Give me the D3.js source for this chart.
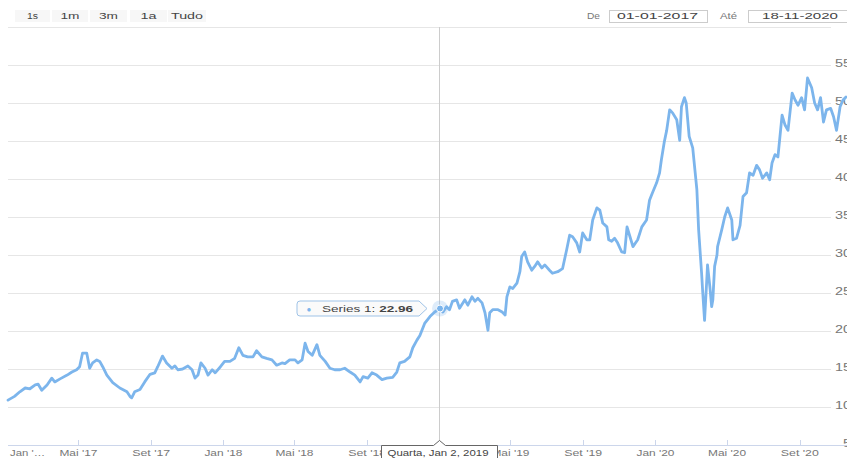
<!DOCTYPE html>
<html><head><meta charset="utf-8">
<script src="https://cdn.jsdelivr.net/npm/d3@7"></script>
<style>html,body{margin:0;padding:0;background:#fff;overflow:hidden}text{font-family:"Liberation Sans",Arial,sans-serif}</style>
</head><body><svg id="c" width="847" height="458"></svg>
<script>
const dates = ["2017-01-02","2017-01-13","2017-01-22","2017-01-31","2017-02-08","2017-02-17","2017-02-22","2017-02-28","2017-03-09","2017-03-17","2017-03-22","2017-03-31","2017-04-12","2017-04-20","2017-04-28","2017-05-03","2017-05-08","2017-05-15","2017-05-20","2017-05-25","2017-06-01","2017-06-06","2017-06-11","2017-06-18","2017-06-28","2017-07-10","2017-07-22","2017-07-27","2017-07-30","2017-08-04","2017-08-13","2017-08-21","2017-08-30","2017-09-07","2017-09-12","2017-09-20","2017-09-27","2017-10-06","2017-10-11","2017-10-16","2017-10-24","2017-11-02","2017-11-09","2017-11-14","2017-11-19","2017-11-24","2017-12-01","2017-12-06","2017-12-13","2017-12-18","2017-12-27","2018-01-03","2018-01-12","2018-01-20","2018-01-27","2018-02-03","2018-02-11","2018-02-20","2018-02-26","2018-03-07","2018-03-15","2018-03-24","2018-04-01","2018-04-10","2018-04-15","2018-04-23","2018-05-02","2018-05-07","2018-05-14","2018-05-19","2018-05-24","2018-05-31","2018-06-08","2018-06-13","2018-06-22","2018-06-30","2018-07-08","2018-07-17","2018-07-25","2018-08-03","2018-08-11","2018-08-20","2018-08-25","2018-09-02","2018-09-09","2018-09-17","2018-09-26","2018-10-04","2018-10-14","2018-10-21","2018-10-26","2018-11-03","2018-11-12","2018-11-17","2018-11-24","2018-11-29","2018-12-07","2018-12-16","2018-12-24","2019-01-02","2019-01-07","2019-01-13","2019-01-18","2019-01-23","2019-01-30","2019-02-04","2019-02-13","2019-02-18","2019-02-25","2019-03-02","2019-03-07","2019-03-14","2019-03-19","2019-03-24","2019-03-27","2019-04-01","2019-04-10","2019-04-17","2019-04-22","2019-04-25","2019-04-30","2019-05-05","2019-05-12","2019-05-17","2019-05-20","2019-05-25","2019-05-30","2019-06-06","2019-06-11","2019-06-16","2019-06-23","2019-06-28","2019-07-06","2019-07-11","2019-07-20","2019-07-28","2019-08-04","2019-08-09","2019-08-14","2019-08-21","2019-08-26","2019-08-31","2019-09-07","2019-09-12","2019-09-17","2019-09-24","2019-09-29","2019-10-04","2019-10-11","2019-10-14","2019-10-19","2019-10-24","2019-10-29","2019-11-05","2019-11-10","2019-11-14","2019-11-19","2019-11-24","2019-12-02","2019-12-09","2019-12-17","2019-12-22","2019-12-27","2020-01-03","2020-01-08","2020-01-11","2020-01-16","2020-01-20","2020-01-25","2020-01-30","2020-02-06","2020-02-11","2020-02-14","2020-02-19","2020-02-22","2020-02-27","2020-03-04","2020-03-11","2020-03-14","2020-03-19","2020-03-21","2020-03-24","2020-03-28","2020-03-29","2020-04-02","2020-04-05","2020-04-07","2020-04-10","2020-04-14","2020-04-15","2020-04-22","2020-04-27","2020-05-02","2020-05-09","2020-05-11","2020-05-17","2020-05-23","2020-05-28","2020-06-03","2020-06-08","2020-06-14","2020-06-20","2020-06-25","2020-06-30","2020-07-07","2020-07-12","2020-07-16","2020-07-21","2020-07-26","2020-08-02","2020-08-07","2020-08-12","2020-08-19","2020-08-24","2020-08-29","2020-09-04","2020-09-09","2020-09-14","2020-09-21","2020-09-26","2020-10-01","2020-10-06","2020-10-11","2020-10-16","2020-10-23","2020-10-28","2020-11-02","2020-11-08","2020-11-13","2020-11-18"];
const values = [10.9,11.4,12.0,12.5,12.4,12.9,13.0,12.2,12.9,13.8,13.3,13.7,14.2,14.6,14.9,15.3,17.1,17.1,15.1,15.8,16.2,16.0,15.3,14.2,13.2,12.5,12.0,11.4,11.2,12.0,12.3,13.3,14.3,14.5,15.3,16.7,15.8,15.1,15.4,14.9,15.0,15.4,14.9,13.8,14.2,15.8,15.1,14.2,14.9,14.5,15.3,16.0,16.0,16.4,17.8,16.8,16.6,16.6,17.4,16.6,16.4,16.2,15.5,15.8,15.7,16.2,16.2,15.8,16.2,18.4,17.3,16.8,18.2,16.8,16.0,15.1,14.9,14.9,15.1,14.6,14.2,13.3,14.0,13.8,14.5,14.2,13.6,13.8,13.9,14.6,15.8,16.0,16.6,17.8,18.8,19.4,21.0,21.9,22.5,22.96,22.5,23.2,22.8,23.9,24.1,23.0,24.1,23.4,24.5,23.9,24.3,23.7,22.4,20.1,22.4,22.8,22.8,22.5,22.1,24.5,25.8,25.6,26.3,27.8,29.8,30.4,29.1,28.0,28.5,29.1,28.3,28.7,28.0,27.6,27.8,28.2,30.7,32.6,32.4,31.6,30.4,32.9,32.0,32.0,34.6,36.2,35.9,34.2,33.7,32.0,31.8,32.2,31.6,30.4,30.3,33.7,32.4,31.1,32.0,33.7,34.6,37.2,38.2,39.5,40.8,42.5,44.9,46.4,49.1,48.7,47.8,45.1,49.5,50.7,50.0,45.6,44.1,38.6,33.3,27.6,25.0,21.4,27.1,28.7,25.8,23.2,24.1,28.5,30.0,31.1,33.3,35.0,36.2,34.6,32.0,32.2,33.9,37.7,38.2,40.8,40.5,41.8,41.2,40.1,40.8,39.9,42.1,43.2,42.9,48.4,47.1,46.4,51.3,50.4,49.7,50.7,49.1,53.3,52.0,50.0,49.1,50.7,47.5,49.1,49.3,48.2,46.4,49.5,50.4,50.8];
const yTickValues = [5,10,15,20,25,30,35,40,45,50,55];
const yGridValues = [5,10,15,20,25,30,35,40,45,50,55,60];
const xTickDates = ["2017-01-01","2017-05-01","2017-09-01","2018-01-01","2018-05-01","2018-09-01","2019-01-01","2019-05-01","2019-09-01","2020-01-01","2020-05-01","2020-09-01"];
const xTickLabels = ["Jan '…","Mai '17","Set '17","Jan '18","Mai '18","Set '18","Jan '19","Mai '19","Set '19","Jan '20","Mai '20","Set '20"];
const rangeButtons = ["1s","1m","3m","1a","Tudo"];
const fromLabel = "De", toLabel = "Até";
const fromDate = "01-01-2017", toDate = "18-11-2020";
const seriesName = "Series 1";
const hoverDate = "2019-01-02";
const hoverLabel = "Quarta, Jan 2, 2019";

const parse = d3.utcParse("%Y-%m-%d");
const data = dates.map((d,i)=>({date:parse(d), value:values[i]}));
const svg = d3.select("#c");

const x = d3.scaleUtc().domain([parse("2017-01-02"), parse("2020-11-18")]).range([8, 846]);
const y = d3.scaleLinear().domain([5, 60]).range([445, 27]);

// grid
svg.append("g").selectAll("line").data(yGridValues).join("line")
  .attr("x1", 8).attr("x2", 831)
  .attr("y1", d=>Math.round(y(d))+0.5).attr("y2", d=>Math.round(y(d))+0.5)
  .attr("stroke", "#e6e6e6").attr("stroke-width", 1);

// y labels
svg.append("g").selectAll("text").data(yTickValues).join("text")
  .attr("x", 851).attr("y", d=>y(d)+1.5)
  .attr("text-anchor", "end")
  .attr("font-size", 10).attr("fill", "#777")
  .attr("textLength", d=>String(d).length*8).attr("lengthAdjust","spacingAndGlyphs")
  .text(d=>d);

// x axis line
svg.append("line").attr("x1", 8).attr("x2", 847).attr("y1", 445.5).attr("y2", 445.5)
  .attr("stroke", "#ccd6eb").attr("stroke-width", 1);
const hoverX = x(parse(hoverDate));
const xt = xTickDates.map((d,i)=>({date:parse(d), label:xTickLabels[i], i}));
svg.append("g").selectAll("line").data(xt.slice(1)).join("line")
  .attr("x1", d=>Math.round(x(d.date))+0.5).attr("x2", d=>Math.round(x(d.date))+0.5)
  .attr("y1", 440).attr("y2", 445).attr("stroke", "#ccd6eb");
// labels hidden beneath the crosshair label are not drawn (as in the reference)
svg.append("g").selectAll("text").data(xt.filter(d=>Math.abs(x(d.date)-hoverX)>20)).join("text")
  .attr("x", d=> d.i===0 ? 10 : x(d.date))
  .attr("y", 455.5)
  .attr("text-anchor", d=> d.i===0 ? "start" : "middle")
  .attr("font-size", 9.5).attr("fill", "#777")
  .attr("textLength", d=> d.i===0 ? 35 : 38).attr("lengthAdjust","spacingAndGlyphs")
  .text(d=>d.label);

// crosshair
const hx = Math.round(hoverX)-0.5;
svg.append("line").attr("x1", hx).attr("x2", hx).attr("y1", 27).attr("y2", 445)
  .attr("stroke", "#cccccc").attr("stroke-width", 1);

// series line
const line = d3.line().x(d=>x(d.date)).y(d=>y(d.value));
svg.append("path").datum(data).attr("d", line)
  .attr("fill", "none").attr("stroke", "#7cb5ec").attr("stroke-width", 2.8)
  .attr("stroke-linejoin", "round").attr("stroke-linecap", "round");

// hover marker
const hp = data.find(d=>+d.date===+parse(hoverDate));
svg.append("circle").attr("cx", x(hp.date)).attr("cy", y(hp.value)).attr("r", 8)
  .attr("fill", "#7cb5ec").attr("opacity", 0.25);
svg.append("circle").attr("cx", x(hp.date)).attr("cy", y(hp.value)).attr("r", 3.5)
  .attr("fill", "#7cb5ec").attr("stroke", "#fff").attr("stroke-width", 1);

// tooltip
const ty = y(hp.value);
const tip = svg.append("g");
tip.append("path")
  .attr("d", `M300,${ty-7.5} H419 L427,${ty} L419,${ty+7.5} H300 Q297,${ty+7.5} 297,${ty+4.5} V${ty-4.5} Q297,${ty-7.5} 300,${ty-7.5} Z`)
  .attr("fill", "rgba(250,250,250,0.92)").attr("stroke", "#9fc3e7").attr("stroke-width", 1);
tip.append("text").attr("x", 309).attr("y", ty+3).attr("text-anchor","middle")
  .attr("font-size", 8).attr("fill", "#7cb5ec").text("●");
const tt = tip.append("text").attr("x", 322).attr("y", ty+3.5).attr("font-size", 9.5).attr("fill", "#444")
  .attr("textLength", 91).attr("lengthAdjust","spacingAndGlyphs");
tt.append("tspan").text(seriesName + ": ");
tt.append("tspan").attr("font-weight","bold").text(d3.format(".2f")(hp.value));

// x crosshair label
const cl = svg.append("g");
cl.append("path")
  .attr("d", `M381.5,445.5 H${hx-6} L${hx},440.5 L${hx+6},445.5 H497.5 V462 H381.5 Z`)
  .attr("fill", "#fff").attr("stroke", "#666").attr("stroke-width", 1);
cl.append("text").attr("x", 438).attr("y", 455.5).attr("text-anchor","middle")
  .attr("font-size", 9.5).attr("fill", "#444")
  .attr("textLength", 101).attr("lengthAdjust","spacingAndGlyphs")
  .text(hoverLabel);

// range selector buttons
const btnX = [15, 52, 90, 130, 168];
const btnW = [35, 36, 37, 37, 38];
const btnTW = [11, 19, 19, 16, 32];
const bg = svg.append("g");
rangeButtons.forEach((b,i)=>{
  bg.append("rect").attr("x", btnX[i]).attr("y", 10).attr("width", btnW[i]).attr("height", 12)
    .attr("fill", "#f7f7f7");
  bg.append("text").attr("x", btnX[i]+btnW[i]/2).attr("y", 18.5).attr("text-anchor","middle")
    .attr("font-size", 8.5).attr("fill", "#444")
    .attr("textLength", btnTW[i]).attr("lengthAdjust","spacingAndGlyphs").text(b);
});

// date inputs
const di = svg.append("g");
di.append("text").attr("x", 587).attr("y", 18.5).attr("font-size", 8.5).attr("fill", "#777")
  .attr("textLength", 13).attr("lengthAdjust","spacingAndGlyphs").text(fromLabel);
di.append("rect").attr("x", 609.5).attr("y", 10.5).attr("width", 98).attr("height", 12)
  .attr("fill", "#fff").attr("stroke", "#cccccc");
di.append("text").attr("x", 657.5).attr("y", 19).attr("text-anchor","middle").attr("font-size", 8.5).attr("fill", "#444")
  .attr("textLength", 81).attr("lengthAdjust","spacingAndGlyphs").text(fromDate);
di.append("text").attr("x", 720).attr("y", 18.5).attr("font-size", 8.5).attr("fill", "#777")
  .attr("textLength", 17).attr("lengthAdjust","spacingAndGlyphs").text(toLabel);
di.append("rect").attr("x", 748.5).attr("y", 10.5).attr("width", 102).attr("height", 12)
  .attr("fill", "#fff").attr("stroke", "#cccccc");
di.append("text").attr("x", 800).attr("y", 19).attr("text-anchor","middle").attr("font-size", 8.5).attr("fill", "#444")
  .attr("textLength", 76).attr("lengthAdjust","spacingAndGlyphs").text(toDate);
</script></body></html>
